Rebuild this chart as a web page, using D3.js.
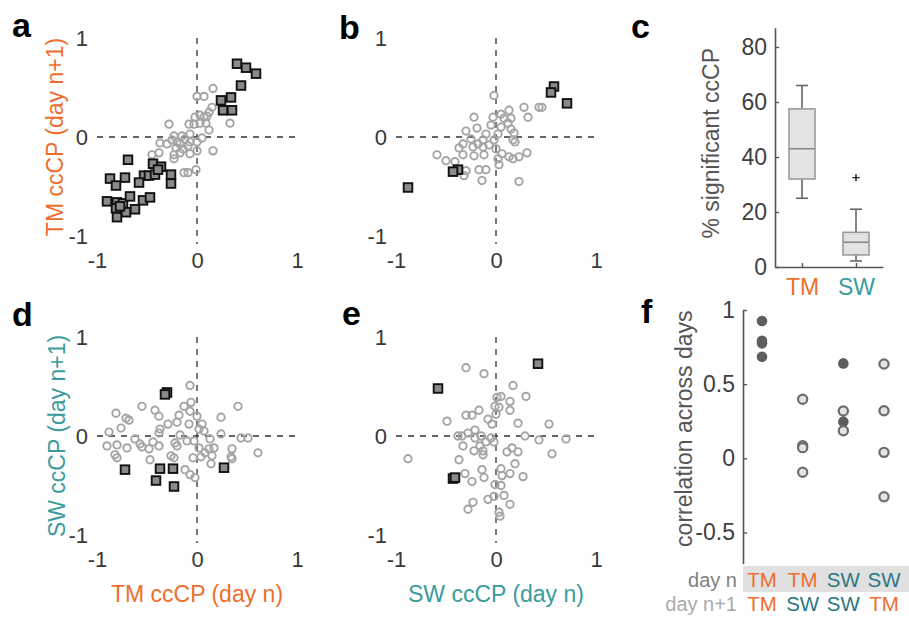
<!DOCTYPE html>
<html>
<head>
<meta charset="utf-8">
<script src="https://cdn.jsdelivr.net/npm/d3@7"></script>
<style>
  body { margin: 0; background: #fff; }
  svg { font-family: Arial, "Liberation Sans", Helvetica, sans-serif; }
</style>
</head>
<body>
<div id="vis"></div>
<script>
var orange = "#ee6e2e";
var teal = "#3a9c9c";
var tealDark = "#2c7684";

// ---- panel a : TM day n vs TM day n+1 ----
var aSigX = [0.40, 0.49, 0.59, 0.44, 0.34, 0.24, 0.26, 0.35, -0.69, -0.44, -0.36, -0.87, -0.72, -0.81, -0.53, -0.48, -0.42, -0.58, -0.26, -0.26, -0.90, -0.80, -0.74, -0.67, -0.54, -0.47, -0.81, -0.71, -0.62, -0.80, -0.77, -0.39];
var aSigY = [0.74, 0.70, 0.64, 0.52, 0.40, 0.37, 0.27, 0.27, -0.23, -0.27, -0.30, -0.42, -0.41, -0.49, -0.39, -0.39, -0.38, -0.46, -0.38, -0.47, -0.65, -0.66, -0.67, -0.60, -0.64, -0.61, -0.72, -0.76, -0.73, -0.81, -0.70, -0.33];
var aX = [0.16, 0.00, 0.07, 0.15, 0.12, 0.03, -0.02, 0.07, 0.10, -0.03, 0.03, 0.09, -0.08, -0.28, 0.33, 0.12, -0.07, -0.15, -0.23, 0.05, -0.12, -0.20, -0.07, 0.00, -0.30, -0.37, -0.17, -0.09, -0.21, -0.14, 0.00, -0.07, 0.16, -0.38, -0.45, -0.23, -0.23, -0.17, -0.13, -0.09, -0.01, -0.25];
var aY = [0.49, 0.41, 0.41, 0.30, 0.25, 0.22, 0.20, 0.20, 0.21, 0.13, 0.14, 0.14, 0.13, 0.13, 0.14, 0.07, 0.03, 0.01, 0.01, -0.01, -0.02, -0.05, -0.05, -0.05, -0.07, -0.06, -0.07, -0.09, -0.11, -0.12, -0.14, -0.17, -0.14, -0.16, -0.18, -0.18, -0.22, -0.16, -0.36, -0.36, -0.33, -0.03];

// ---- panel b : SW day n vs TM day n+1 ----
var bSigX = [0.58, 0.55, 0.71, -0.38, -0.43, -0.88];
var bSigY = [0.51, 0.45, 0.34, -0.33, -0.35, -0.51];
var bX = [-0.02, 0.28, 0.43, 0.46, 0.13, 0.05, 0.32, -0.22, -0.03, 0.15, 0.08, 0.12, -0.05, -0.19, 0.05, 0.15, -0.30, -0.10, 0.02, 0.18, -0.25, -0.13, -0.02, 0.17, 0.19, -0.33, -0.18, -0.07, -0.37, -0.23, -0.13, 0.00, -0.33, -0.22, -0.12, 0.06, 0.13, 0.17, 0.23, 0.31, -0.59, -0.50, -0.41, -0.30, -0.32, -0.17, -0.10, -0.14, 0.03, 0.23, 0.02];
var bY = [0.42, 0.30, 0.30, 0.30, 0.27, 0.23, 0.20, 0.20, 0.20, 0.19, 0.19, 0.14, 0.12, 0.09, 0.10, 0.08, 0.06, 0.03, 0.03, 0.04, -0.02, -0.03, -0.03, -0.03, -0.05, -0.07, -0.07, -0.08, -0.11, -0.10, -0.10, -0.12, -0.18, -0.19, -0.18, -0.17, -0.20, -0.22, -0.20, -0.16, -0.18, -0.24, -0.25, -0.34, -0.39, -0.33, -0.33, -0.44, -0.28, -0.45, -0.22];

// ---- panel d : TM day n vs SW day n+1 ----
var dSigX = [-0.30, -0.32, -0.72, -0.37, -0.24, 0.27, -0.41, -0.23];
var dSigY = [0.44, 0.42, -0.34, -0.33, -0.33, -0.32, -0.45, -0.51];
var dX = [-0.07, -0.06, 0.41, -0.55, -0.42, -0.13, -0.07, -0.81, -0.71, -0.68, -0.38, -0.18, 0.00, 0.24, -0.20, -0.29, -0.08, 0.05, -0.76, -0.37, -0.38, 0.02, 0.07, -0.88, -0.17, 0.24, 0.44, 0.51, 0.13, -0.62, -0.57, -0.48, -0.55, -0.44, -0.22, -0.10, -0.03, -0.90, -0.80, -0.70, -0.82, -0.80, -0.38, -0.20, 0.02, 0.12, 0.17, 0.08, 0.15, 0.35, 0.34, 0.35, 0.61, -0.47, -0.26, -0.23, -0.04, 0.04, 0.14, -0.12, -0.07, -0.02];
var dY = [0.51, 0.34, 0.30, 0.30, 0.26, 0.30, 0.25, 0.23, 0.18, 0.16, 0.20, 0.21, 0.20, 0.19, 0.14, 0.12, 0.12, 0.12, 0.08, 0.07, 0.03, 0.07, 0.05, 0.04, 0.01, 0.02, -0.02, -0.02, -0.03, -0.03, -0.08, -0.13, -0.11, -0.06, -0.07, -0.05, -0.05, -0.10, -0.09, -0.12, -0.19, -0.22, -0.10, -0.10, -0.12, -0.13, -0.12, -0.17, -0.20, -0.13, -0.21, -0.23, -0.17, -0.24, -0.20, -0.22, -0.22, -0.21, -0.28, -0.34, -0.39, -0.42];

// ---- panel e : SW day n vs SW day n+1 ----
var eSigX = [0.42, -0.58, -0.43, -0.41];
var eSigY = [0.73, 0.48, -0.43, -0.42];
var eX = [-0.30, -0.12, 0.17, 0.30, 0.01, 0.05, 0.14, -0.01, 0.03, 0.14, -0.17, -0.30, -0.24, -0.08, 0.00, -0.04, -0.49, 0.22, 0.53, -0.21, -0.28, -0.38, -0.34, -0.15, -0.05, -0.02, -0.10, -0.21, 0.29, 0.43, 0.70, -0.33, -0.22, -0.13, -0.16, -0.13, 0.11, 0.16, 0.22, 0.56, -0.88, -0.37, 0.19, 0.05, 0.14, 0.06, -0.14, -0.12, -0.31, 0.27, -0.24, -0.01, 0.05, -0.08, -0.02, 0.08, 0.14, -0.23, -0.28, 0.03, 0.04];
var eY = [0.69, 0.63, 0.51, 0.40, 0.39, 0.40, 0.35, 0.30, 0.29, 0.26, 0.26, 0.21, 0.21, 0.17, 0.22, 0.12, 0.15, 0.13, 0.12, 0.06, 0.03, 0.00, 0.00, 0.00, -0.02, -0.06, -0.06, -0.02, 0.00, -0.04, -0.03, -0.10, -0.15, -0.15, -0.10, -0.19, -0.16, -0.12, -0.16, -0.18, -0.23, -0.24, -0.28, -0.33, -0.38, -0.40, -0.34, -0.42, -0.38, -0.41, -0.46, -0.49, -0.50, -0.64, -0.61, -0.60, -0.69, -0.67, -0.74, -0.77, -0.81];

var scatterTicks = [-1, 0, 1];

// ---- panel c : % significant ccCP ----
var boxGroups = ["TM", "SW"];
var boxColors = [orange, teal];
var boxLo = [25, 2.2];
var boxQ1 = [32, 4.4];
var boxMed = [43, 9];
var boxQ3 = [57.5, 12.6];
var boxHi = [66, 21];
var boxOutGroup = [1];
var boxOutVal = [32.5];
var cTicks = [0, 20, 40, 60, 80];

// ---- panel f : correlation across days ----
var fCol = [0, 0, 0, 0, 1, 1, 1, 1, 2, 2, 2, 2, 3, 3, 3, 3];
var fVal = [0.926, 0.793, 0.775, 0.685, 0.398, 0.085, 0.072, -0.094, 0.64, 0.319, 0.247, 0.186, 0.636, 0.321, 0.040, -0.259];
var fSig = [1, 1, 1, 1, 0, 0, 0, 0, 1, 0, 1, 0, 0, 0, 0, 0];
var fTicks = [-0.5, 0, 0.5, 1];
var dayN = ["TM", "TM", "SW", "SW"];
var dayN1 = ["TM", "SW", "SW", "TM"];

var chart = d3.select('#vis').append('svg')
    .attr("width", 909)
    .attr("height", 617);

function zip(xs, ys) {
    return xs.map(function(v, i) { return [v, ys[i]]; });
}

function minusFmt(d) {
    return d < 0 ? "-" + Math.abs(d) : String(d);
}

// one scatter panel with dashed zero lines and -1/0/1 labels
function scatterPanel(opt) {
    var x = d3.scaleLinear().domain([-1, 1]).range(opt.xr);
    var y = d3.scaleLinear().domain([-1, 1]).range(opt.yr);
    var g = chart.append("g");

    g.append("line")
        .attr("x1", x(-1)).attr("x2", x(1))
        .attr("y1", y(0)).attr("y2", y(0))
        .attr("stroke", "#333").attr("stroke-width", 1.3)
        .attr("stroke-dasharray", "6,6");
    g.append("line")
        .attr("x1", x(0)).attr("x2", x(0))
        .attr("y1", y(1)).attr("y2", y(-1.08))
        .attr("stroke", "#333").attr("stroke-width", 1.3)
        .attr("stroke-dasharray", "6,6");

    var yAxis = d3.axisLeft(y).tickValues(scatterTicks).tickSize(0).tickPadding(9)
        .tickFormat(minusFmt);
    var xAxis = d3.axisBottom(x).tickValues(scatterTicks).tickSize(0).tickPadding(16)
        .tickFormat(minusFmt);
    var ya = g.append("g").attr("transform", "translate(" + x(-1) + ",0)").call(yAxis);
    var xa = g.append("g").attr("transform", "translate(0," + y(-1) + ")").call(xAxis);
    [ya, xa].forEach(function(a) {
        a.select(".domain").remove();
        a.selectAll("text").attr("font-size", 22).attr("fill", "#383838")
            .attr("font-family", null);
    });

    g.selectAll("circle.pt").data(zip(opt.cx, opt.cy)).enter().append("circle")
        .attr("class", "pt")
        .attr("cx", function(d) { return x(d[0]); })
        .attr("cy", function(d) { return y(d[1]); })
        .attr("r", 3.7)
        .attr("fill", "none")
        .attr("stroke", "#a4a4a4")
        .attr("stroke-width", 1.9);

    g.selectAll("rect.sig").data(zip(opt.sx, opt.sy)).enter().append("rect")
        .attr("class", "sig")
        .attr("x", function(d) { return x(d[0]) - 4.3; })
        .attr("y", function(d) { return y(d[1]) - 4.3; })
        .attr("width", 8.6).attr("height", 8.6)
        .attr("fill", "#8a8a8a")
        .attr("stroke", "#111")
        .attr("stroke-width", 1.9);

    if (opt.ylab) {
        g.append("text")
            .attr("transform", "translate(" + opt.ylab.x + "," + y(0) + ") rotate(-90)")
            .attr("text-anchor", "middle")
            .attr("dy", "0.35em")
            .attr("font-size", 23)
            .attr("fill", opt.ylab.color)
            .text(opt.ylab.text);
    }
    if (opt.xlab) {
        g.append("text")
            .attr("x", x(0)).attr("y", opt.xlab.y)
            .attr("text-anchor", "middle")
            .attr("font-size", 23)
            .attr("fill", opt.xlab.color)
            .text(opt.xlab.text);
    }
}

function panelLetter(t, px, py) {
    chart.append("text")
        .attr("x", px).attr("y", py)
        .attr("font-size", 34)
        .attr("font-weight", "bold")
        .attr("fill", "#000")
        .text(t);
}

scatterPanel({ xr: [97, 297], yr: [236, 38], cx: aX, cy: aY, sx: aSigX, sy: aSigY,
    ylab: { x: 55, text: "TM ccCP (day n+1)", color: orange } });
scatterPanel({ xr: [396, 596], yr: [236, 38], cx: bX, cy: bY, sx: bSigX, sy: bSigY });
scatterPanel({ xr: [97, 297], yr: [535, 337], cx: dX, cy: dY, sx: dSigX, sy: dSigY,
    ylab: { x: 57, text: "SW ccCP (day n+1)", color: teal },
    xlab: { y: 602, text: "TM ccCP (day n)", color: orange } });
scatterPanel({ xr: [396, 596], yr: [535, 337], cx: eX, cy: eY, sx: eSigX, sy: eSigY,
    xlab: { y: 602, text: "SW ccCP (day n)", color: teal } });

panelLetter("a", 12, 37);
panelLetter("b", 339, 39);
panelLetter("c", 631, 38);
panelLetter("d", 12, 326);
panelLetter("e", 342, 325);
panelLetter("f", 641, 323);

// ---- panel c box plot ----
var xC = d3.scaleLinear().domain([0.5, 2.5]).range([775, 883]);
var yC = d3.scaleLinear().domain([0, 87]).range([267, 27.75]);
var gc = chart.append("g");

var cy = gc.append("g").attr("transform", "translate(" + xC(0.5) + ",0)")
    .call(d3.axisLeft(yC).tickValues(cTicks).tickSize(-4).tickSizeOuter(0).tickPadding(8));
var cx = gc.append("g").attr("transform", "translate(0," + yC(0) + ")")
    .call(d3.axisBottom(xC).tickValues([1, 2]).tickSize(-4).tickSizeOuter(0).tickPadding(12)
        .tickFormat(function(d) { return boxGroups[d - 1]; }));
[cy, cx].forEach(function(a) {
    a.select(".domain").attr("stroke", "#555").attr("stroke-width", 1.6);
    a.selectAll(".tick line").attr("stroke", "#555").attr("stroke-width", 1.4);
    a.selectAll("text").attr("font-size", 23).attr("font-family", null).attr("fill", "#404040");
});
cx.selectAll("text").attr("fill", function(d) { return boxColors[d - 1]; });

gc.append("text")
    .attr("transform", "translate(711," + yC(45) + ") rotate(-90)")
    .attr("text-anchor", "middle")
    .attr("dy", "0.35em")
    .attr("font-size", 23)
    .attr("fill", "#555")
    .text("% significant ccCP");

boxGroups.forEach(function(name, i) {
    var cxp = xC(i + 1);
    var hw = 13;
    // whiskers
    gc.append("line").attr("x1", cxp).attr("x2", cxp)
        .attr("y1", yC(boxHi[i])).attr("y2", yC(boxQ3[i]))
        .attr("stroke", "#666").attr("stroke-width", 1.6);
    gc.append("line").attr("x1", cxp).attr("x2", cxp)
        .attr("y1", yC(boxLo[i])).attr("y2", yC(boxQ1[i]))
        .attr("stroke", "#666").attr("stroke-width", 1.6);
    gc.append("line").attr("x1", cxp - 6).attr("x2", cxp + 6)
        .attr("y1", yC(boxHi[i])).attr("y2", yC(boxHi[i]))
        .attr("stroke", "#666").attr("stroke-width", 1.6);
    gc.append("line").attr("x1", cxp - 6).attr("x2", cxp + 6)
        .attr("y1", yC(boxLo[i])).attr("y2", yC(boxLo[i]))
        .attr("stroke", "#666").attr("stroke-width", 1.6);
    gc.append("rect")
        .attr("x", cxp - hw).attr("y", yC(boxQ3[i]))
        .attr("width", hw * 2).attr("height", yC(boxQ1[i]) - yC(boxQ3[i]))
        .attr("fill", "#e3e3e3").attr("stroke", "#9a9a9a").attr("stroke-width", 1.6);
    gc.append("line").attr("x1", cxp - hw).attr("x2", cxp + hw)
        .attr("y1", yC(boxMed[i])).attr("y2", yC(boxMed[i]))
        .attr("stroke", "#8a8a8a").attr("stroke-width", 1.6);
});
// outliers drawn as small black crosses
boxOutGroup.forEach(function(gi, k) {
    var ox = xC(gi + 1), oy = yC(boxOutVal[k]);
    gc.append("path")
        .attr("d", "M" + (ox - 3.5) + "," + oy + "H" + (ox + 3.5) + "M" + ox + "," + (oy - 3.5) + "V" + (oy + 3.5))
        .attr("stroke", "#111").attr("stroke-width", 1.4).attr("fill", "none");
});

// ---- panel f : correlation across days ----
var xF = d3.scaleLinear().domain([0, 3]).range([762, 884]);
var yF = d3.scaleLinear().domain([-0.71, 1]).range([563.6, 310]);
var gf = chart.append("g");

var fy = gf.append("g").attr("transform", "translate(743,0)")
    .call(d3.axisLeft(yF).tickValues(fTicks).tickSize(-4).tickSizeOuter(0).tickPadding(8)
        .tickFormat(minusFmt));
fy.select(".domain").attr("stroke", "#555").attr("stroke-width", 1.6);
fy.selectAll(".tick line").attr("stroke", "#555").attr("stroke-width", 1.4);
fy.selectAll("text").attr("font-size", 23).attr("font-family", null).attr("fill", "#404040");

gf.append("text")
    .attr("transform", "translate(684," + yF(0.2) + ") rotate(-90)")
    .attr("text-anchor", "middle")
    .attr("dy", "0.35em")
    .attr("font-size", 23)
    .attr("fill", "#555")
    .text("correlation across days");

gf.selectAll("circle.fpt").data(fVal).enter().append("circle")
    .attr("class", "fpt")
    .attr("cx", function(d, i) { return xF(fCol[i]); })
    .attr("cy", function(d) { return yF(d); })
    .attr("r", function(d, i) { return fSig[i] ? 5.3 : 4.6; })
    .attr("fill", function(d, i) { return fSig[i] ? "#5e5e5e" : "#e4e4e4"; })
    .attr("stroke", function(d, i) { return fSig[i] ? "none" : "#6c6c6c"; })
    .attr("stroke-width", 2.2);

// day n / day n+1 table under panel f
gf.append("rect")
    .attr("x", 743).attr("y", 566)
    .attr("width", 166).attr("height", 26)
    .attr("fill", "#e0e0e0");
gf.append("text").attr("x", 737).attr("y", 587)
    .attr("text-anchor", "end").attr("font-size", 20).attr("fill", "#808080")
    .text("day n");
gf.append("text").attr("x", 737).attr("y", 611)
    .attr("text-anchor", "end").attr("font-size", 20).attr("fill", "#aaaaaa")
    .text("day n+1");
function tableRow(labels, yy) {
    gf.selectAll(null).data(labels).enter().append("text")
        .attr("x", function(d, i) { return xF(i); })
        .attr("y", yy)
        .attr("text-anchor", "middle")
        .attr("font-size", 20.5)
        .attr("fill", function(d) { return d == "TM" ? orange : tealDark; })
        .text(function(d) { return d; });
}
tableRow(dayN, 587);
tableRow(dayN1, 611);
</script>
</body>
</html>
